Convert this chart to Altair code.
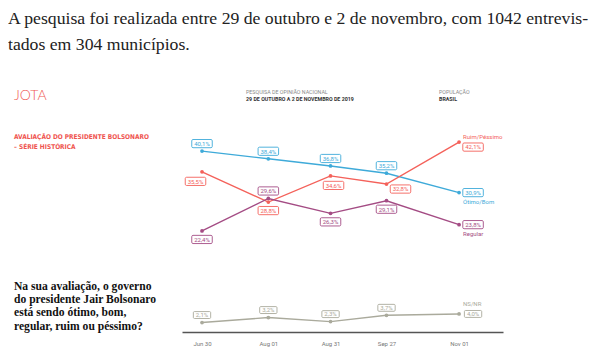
import altair as alt
import pandas as pd

# ---- data ----
dates = ["2019-06-30", "2019-08-01", "2019-08-31", "2019-09-27", "2019-11-01"]
series_names = ["Ótimo/Bom", "Ruim/Péssimo", "Regular", "NS/NR"]
otimo_bom = [40.1, 38.4, 36.8, 35.2, 30.9]
ruim_pessimo = [35.5, 28.8, 34.6, 32.8, 42.1]
regular = [22.4, 29.6, 26.3, 29.1, 23.8]
ns_nr = [2.1, 3.2, 2.3, 3.7, 4.0]

intro = ["A pesquisa foi realizada entre 29 de outubro e 2 de novembro, com 1042 entrevis-",
         "tados em 304 municípios."]
question = ["Na sua avaliação, o governo", "do presidente Jair Bolsonaro",
            "está sendo ótimo, bom,", "regular, ruim ou péssimo?"]
title_lines = ["AVALIAÇÃO DO PRESIDENTE BOLSONARO", "– SÉRIE HISTÓRICA"]

# ---- styles ----
colors = ["#3eaad9", "#f4615a", "#a44c84", "#aaaa9c"]
text_colors = ["#3aa2d2", "#ee5a53", "#9c477d", "#999990"]
placements = {
    "Ótimo/Bom": ["above", "above", "above", "above", "right"],
    "Ruim/Péssimo": ["belowleft", "below", "belowright", "rightbelow", "rightbelow"],
    "Regular": ["below", "above", "below", "below", "right"],
    "NS/NR": ["above", "above", "above", "above", "right"],
}
offsets = {"above": (0, -7.5), "below": (0, 8.5), "right": (14, 0),
           "belowleft": (-6.5, 9.5), "belowright": (3, 9.5), "rightbelow": (14, 5)}
name_dy = {"Ótimo/Bom": 9, "Ruim/Péssimo": -5, "Regular": 9, "NS/NR": -10}

values = {"Ótimo/Bom": otimo_bom, "Ruim/Péssimo": ruim_pessimo, "Regular": regular, "NS/NR": ns_nr}
d0 = pd.Timestamp(dates[0])
days = [(pd.Timestamp(d) - d0).days for d in dates]
tick_labels = [pd.Timestamp(d).strftime("%b %d") for d in dates]

rows = []
for s in series_names:
    for i, d in enumerate(dates):
        v = values[s][i]
        rows.append({"series": s, "day": days[i], "value": v,
                     "label": f"{v:.1f}".replace(".", ",") + "%",
                     "place": placements[s][i], "last": i == len(dates) - 1})
df = pd.DataFrame(rows)

label_expr = "{" + ",".join(f"'{d}':'{t}'" for d, t in zip(days, tick_labels)) + "}[datum.value]"

xscale = alt.Scale(domain=[-9.65, 145.2], nice=False, zero=False)
yscale = alt.Scale(domain=[0, 45], nice=False)
cscale = alt.Scale(domain=series_names, range=colors)
tscale = alt.Scale(domain=series_names, range=text_colors)

X = alt.X("day:Q", scale=xscale,
          axis=alt.Axis(values=days, labelExpr=label_expr, title=None, ticks=False, grid=False,
                        domainColor="#555555", domainWidth=1.6, labelFontSize=6,
                        labelColor="#777777", labelFont="Roboto", labelPadding=8,
                        labelFlush=False, labelOverlap=False))
Y = alt.Y("value:Q", scale=yscale, axis=None)

base = alt.Chart(df)
lines = base.mark_line(strokeWidth=1.4).encode(
    x=X, y=Y, color=alt.Color("series:N", scale=cscale, legend=None), detail="series:N")
dots = base.mark_circle(size=14, opacity=1).encode(
    x=X, y=Y, color=alt.Color("series:N", scale=cscale, legend=None))

box_shape = ("M-0.88,-0.4H0.88A0.12,0.12 0 0 1 1,-0.28V0.28A0.12,0.12 0 0 1 0.88,0.4"
             "H-0.88A0.12,0.12 0 0 1 -1,0.28V-0.28A0.12,0.12 0 0 1 -0.88,-0.4Z")

layers = [lines, dots]
for p, (dx, dy) in offsets.items():
    sub = df[df["place"] == p]
    if sub.empty:
        continue
    c = alt.Chart(sub)
    layers.append(c.mark_point(shape=box_shape, filled=True, fill="white", strokeWidth=0.9,
                               opacity=1, xOffset=dx, yOffset=dy).encode(
        x=X, y=Y,
        stroke=alt.Stroke("series:N", scale=cscale, legend=None),
        size=alt.condition("datum.value < 10", alt.value(300), alt.value(420))))
    layers.append(c.mark_text(font="Roboto", fontSize=6, xOffset=dx, yOffset=dy + 0.3,
                              baseline="middle", align="center").encode(
        x=X, y=Y, text="label:N",
        color=alt.Color("series:N", scale=tscale, legend=None)))

for s in series_names:
    sub = df[(df["series"] == s) & (df["last"])]
    layers.append(alt.Chart(sub).mark_text(font="Roboto", fontSize=6, align="left",
                                           baseline="middle", xOffset=4, yOffset=name_dy[s]).encode(
        x=X, y=Y, text="series:N",
        color=alt.Color("series:N", scale=tscale, legend=None)))


def txt(s, x, y, **kw):
    return alt.Chart(pd.DataFrame({"t": [s]})).mark_text(align="left", **kw).encode(
        text="t:N", x=alt.value(x), y=alt.value(y))


ann = []
ann.append(txt(intro[0], -174, -105.3, baseline="alphabetic", font="Liberation Serif",
               fontSize=17.7, color="#222222"))
ann.append(txt(intro[1], -174, -79.5, baseline="alphabetic", font="Liberation Serif",
               fontSize=17.7, color="#222222"))
ann.append(txt("JOTA", -168, -33, baseline="middle", font="Lato", fontWeight=300,
               fontSize=14, color="#ef5a55"))
ann.append(txt("PESQUISA DE OPINIÃO NACIONAL", 64, -36.7, baseline="middle", font="Roboto",
               fontSize=5.3, color="#8a8a8a"))
ann.append(txt("29 DE OUTUBRO A 2 DE NOVEMBRO DE 2019", 64, -29.7, baseline="middle",
               font="Roboto", fontWeight="bold", fontSize=5.3, color="#333333"))
ann.append(txt("POPULAÇÃO", 257, -36.7, baseline="middle", font="Roboto",
               fontSize=5.3, color="#8a8a8a"))
ann.append(txt("BRASIL", 257, -29.7, baseline="middle", font="Roboto", fontWeight="bold",
               fontSize=5.3, color="#333333"))
for i, t in enumerate(title_lines):
    ann.append(txt(t, -168, 7.7 + 10 * i, baseline="middle",
                   font="'DejaVu Sans Condensed', 'Roboto Condensed', Roboto",
                   fontWeight="bold", fontSize=6.5, color="#ef5550"))
for i, t in enumerate(question):
    ann.append(txt(t, -168, 157.7 + 13.3 * i, baseline="middle", font="Liberation Serif",
                   fontWeight="bold", fontSize=11.6, color="#111111"))

chart = alt.layer(*layers, *ann).properties(
    width=321, height=203,
    autosize=alt.AutoSizeParams(type="none"),
    padding={"left": 174, "top": 121, "right": 89, "bottom": 22},
    background="white",
).configure_view(stroke=None)

chart.save("out.html", embed_options={"renderer": "svg", "actions": False})
